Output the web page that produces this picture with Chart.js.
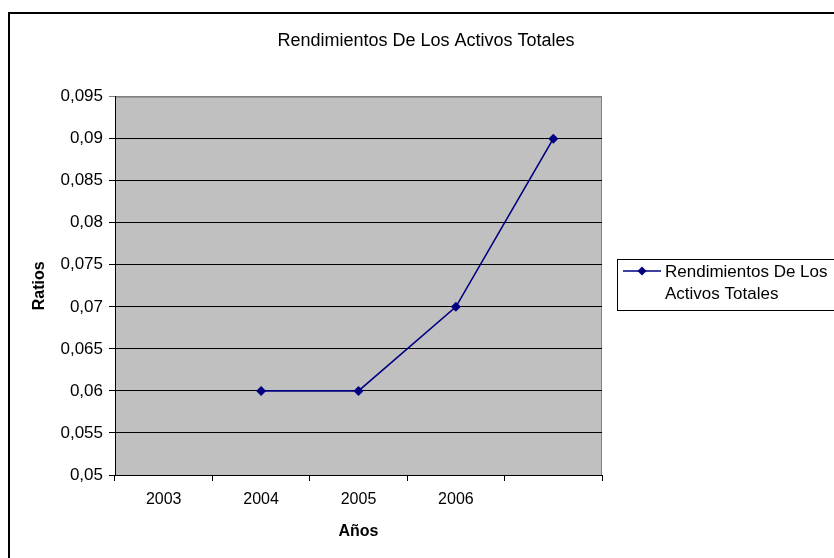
<!DOCTYPE html>
<html>
<head>
<meta charset="utf-8">
<script src="https://cdn.jsdelivr.net/npm/chart.js@4/dist/chart.umd.min.js"></script>
<style>
  html, body { margin: 0; padding: 0; background: #fff; }
  canvas { display: block; }
</style>
</head>
<body>
<canvas id="myChart" width="834" height="558"></canvas>
<script>
var years = ['2003', '2004', '2005', '2006', ''];
var ratios = [null, 0.06, 0.06, 0.07, 0.09];
var seriesName = 'Rendimientos De Los Activos Totales';
var chartTitle = 'Rendimientos De Los Activos Totales';
var xTitle = 'Años';
var yTitle = 'Ratios';
var yMin = 0.05, yMax = 0.095, yStep = 0.005;

var navy = '#000080';
Chart.defaults.font.family = '"Liberation Sans", Arial, sans-serif';
Chart.defaults.color = '#000';

// white page, outer frame, grey plot area
var frame = {
  id: 'frame',
  beforeDraw: function (chart) {
    var c = chart.ctx, a = chart.chartArea;
    c.save();
    c.fillStyle = '#fff';
    c.fillRect(0, 0, chart.width, chart.height);
    c.strokeStyle = '#000';
    c.lineWidth = 2;
    c.strokeRect(9, 13, chart.width + 20, chart.height + 20);
    c.fillStyle = '#c0c0c0';
    c.fillRect(a.left, a.top, a.right - a.left, a.bottom - a.top);
    c.strokeStyle = '#808080';
    c.lineWidth = 1;
    c.strokeRect(a.left + 0.5, a.top + 0.5, a.right - a.left - 1, a.bottom - a.top);
    c.restore();
  },
  afterDraw: function (chart) {
    // legend box, two lines of text as in the original
    var c = chart.ctx;
    var words = seriesName.split(' ');
    var lines = [words.slice(0, 3).join(' '), words.slice(3).join(' ')];
    c.save();
    c.strokeStyle = '#000';
    c.lineWidth = 1;
    c.strokeRect(617.5, 259.5, 300, 51);
    c.strokeStyle = navy;
    c.lineWidth = 1.5;
    c.beginPath();
    c.moveTo(623, 271);
    c.lineTo(661, 271);
    c.stroke();
    c.fillStyle = navy;
    c.beginPath();
    c.moveTo(642, 266.5);
    c.lineTo(646.5, 271);
    c.lineTo(642, 275.5);
    c.lineTo(637.5, 271);
    c.closePath();
    c.fill();
    c.fillStyle = '#000';
    c.font = '17px "Liberation Sans", Arial, sans-serif';
    c.textBaseline = 'middle';
    c.fillText(lines[0], 665, 272);
    c.fillText(lines[1], 665, 294);
    c.restore();
  }
};

var ctx = document.getElementById('myChart').getContext('2d');
var myChart = new Chart(ctx, {
  type: 'line',
  data: {
    labels: years,
    datasets: [{
      label: seriesName,
      data: ratios,
      borderColor: navy,
      backgroundColor: navy,
      borderWidth: 1.6,
      pointStyle: 'rectRot',
      pointRadius: 5,
      pointBorderWidth: 0,
      tension: 0
    }]
  },
  options: {
    responsive: false,
    animation: false,
    layout: { padding: { left: 18, top: 30, right: 0, bottom: 0 } },
    scales: {
      x: {
        offset: true,
        grid: { offset: true, drawOnChartArea: false, drawTicks: true, tickLength: 6, color: '#000' },
        border: { color: '#000', width: 1 },
        ticks: { font: { size: 16 }, padding: 9, maxRotation: 0 },
        title: { display: true, text: xTitle, font: { size: 16, weight: 'bold' }, padding: { top: 0, bottom: 17 } },
        afterFit: function (s) { s.height = 83; }
      },
      y: {
        min: yMin,
        max: yMax,
        grid: {
          tickLength: 6,
          color: function (c) { return c.tick && c.tick.value >= yMax - 1e-9 ? '#808080' : '#000'; }
        },
        border: { color: '#000', width: 1 },
        ticks: {
          stepSize: yStep,
          font: { size: 17 },
          padding: 6,
          callback: function (v) { return Number(v.toFixed(3)).toString().replace('.', ','); }
        },
        title: { display: true, text: yTitle, font: { size: 16, weight: 'bold' }, padding: { top: 12, bottom: 0 } },
        afterFit: function (s) { s.width = 97; }
      },
      spacer: {
        type: 'linear',
        position: 'right',
        grid: { display: false },
        border: { display: false },
        ticks: { display: false },
        afterFit: function (s) { s.width = 232; }
      }
    },
    plugins: {
      legend: { display: false },
      tooltip: { enabled: false },
      title: {
        display: true,
        text: chartTitle,
        color: '#000',
        font: { size: 18, weight: 'normal' },
        padding: { top: 0, bottom: 45 }
      }
    }
  },
  plugins: [frame]
});
</script>
</body>
</html>
